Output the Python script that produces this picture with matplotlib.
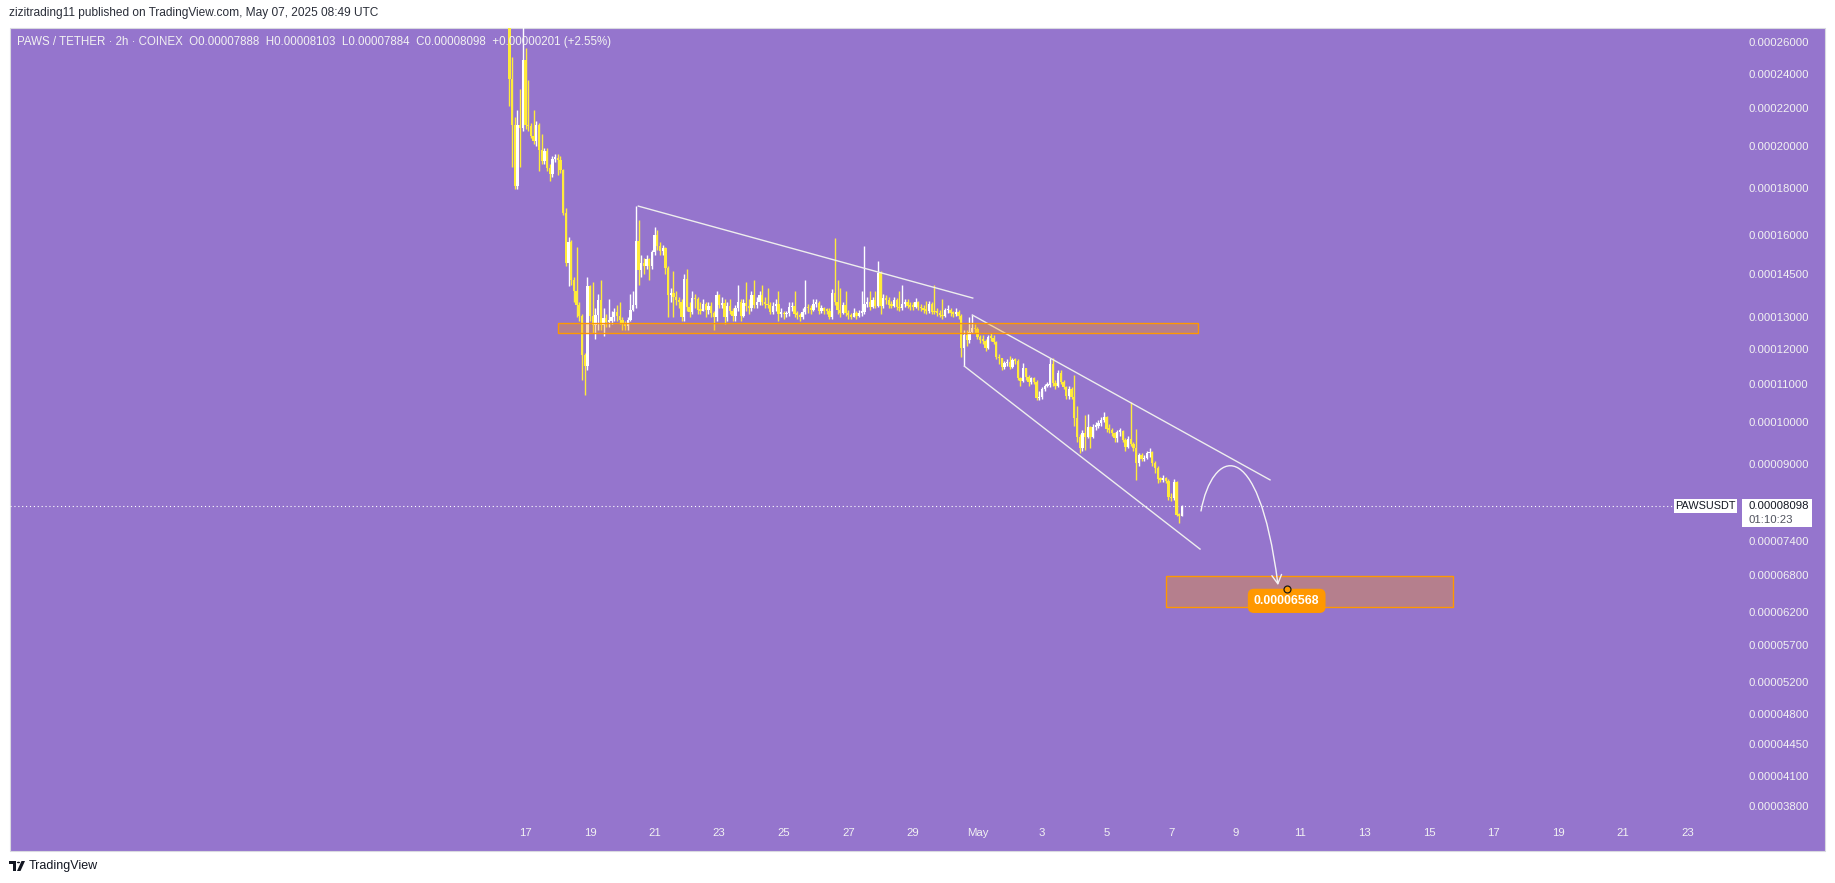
import numpy as np
import pandas as pd
import matplotlib
matplotlib.use('Agg')
import matplotlib.pyplot as plt
import matplotlib.dates as mdates
from matplotlib.patches import Rectangle, FancyArrowPatch, Circle, Polygon
from matplotlib.path import Path
from matplotlib.ticker import NullLocator

plt.rcParams['font.family'] = ['Liberation Sans', 'DejaVu Sans']

# ---- data: PAWS/USDT 2h candles (prices in units of 1e-5) ----
first_open = 27.50
close = [
    23.68, 21.10, 18.09, 21.10, 20.94, 24.84, 21.10, 21.02, 20.52, 20.26,
    21.10, 19.81, 19.26, 19.76, 18.93, 18.65, 19.36, 19.41, 19.31, 18.84,
    16.90, 14.91, 15.71, 14.28, 13.89, 13.41, 13.04, 11.83, 11.50, 14.07,
    13.04, 12.75, 13.08, 13.58, 12.75, 12.98, 12.85, 12.88, 13.01, 13.17,
    13.04, 12.92, 12.82, 12.72, 12.92, 13.24, 13.41, 15.75, 14.65, 14.91,
    14.80, 15.06, 14.80, 15.32, 15.99, 15.55, 15.36, 15.48, 14.72, 13.75,
    13.82, 13.68, 13.58, 13.51, 13.02, 14.32, 13.36, 13.19, 13.64, 13.60,
    13.24, 13.22, 13.44, 13.24, 13.38, 13.15, 13.00, 13.75, 13.41, 13.49,
    13.02, 13.38, 13.22, 13.04, 13.30, 13.51, 13.04, 13.49, 13.38, 13.30,
    13.75, 13.41, 13.52, 13.75, 13.52, 13.44, 13.41, 13.19, 13.38, 13.44,
    13.11, 13.13, 13.10, 13.13, 13.33, 13.38, 13.11, 13.08, 13.02, 13.19,
    13.33, 13.30, 13.24, 13.46, 13.49, 13.21, 13.30, 13.22, 13.21, 13.02,
    13.82, 13.52, 13.24, 13.13, 13.41, 13.15, 13.08, 13.02, 13.15, 13.04,
    13.15, 13.19, 13.46, 13.52, 13.33, 13.58, 13.38, 14.55, 13.38, 13.64,
    13.58, 13.41, 13.39, 13.58, 13.33, 13.30, 13.46, 13.52, 13.38, 13.36,
    13.35, 13.52, 13.33, 13.30, 13.24, 13.22, 13.46, 13.19, 13.17, 13.15,
    13.08, 13.04, 13.24, 13.26, 13.13, 13.11, 13.19, 13.05, 12.03, 12.44,
    12.28, 12.54, 12.65, 12.62, 12.38, 12.28, 12.26, 12.03, 12.38, 12.36,
    12.23, 11.76, 11.73, 11.48, 11.58, 11.63, 11.48, 11.68, 11.66, 11.15,
    11.09, 11.44, 11.18, 11.06, 11.15, 11.06, 10.61, 10.65, 10.85, 10.94,
    10.97, 11.56, 11.01, 10.94, 11.31, 11.06, 10.92, 10.67, 10.85, 10.65,
    10.09, 9.63, 9.35, 9.71, 9.63, 9.87, 9.63, 9.87, 9.90, 9.96,
    10.04, 10.12, 9.83, 9.80, 9.71, 9.59, 9.75, 9.77, 9.55, 9.39,
    9.57, 9.45, 9.37, 9.02, 9.20, 9.10, 9.12, 9.24, 9.27, 9.01,
    8.90, 8.67, 8.64, 8.68, 8.62, 8.28, 8.25, 8.60, 7.91, 7.888,
    8.098,
]
high = [
    28.50, 25.00, 21.50, 21.90, 23.10, 27.50, 25.60, 23.60, 21.20, 21.90,
    21.30, 21.20, 20.60, 19.90, 19.90, 19.10, 19.50, 19.60, 19.60, 19.50,
    18.90, 17.10, 15.90, 15.80, 14.40, 15.50, 13.50, 13.10, 11.90, 14.40,
    14.10, 14.20, 13.30, 13.80, 14.30, 13.30, 13.10, 13.60, 13.20, 13.30,
    13.40, 13.50, 13.00, 12.90, 13.00, 13.80, 13.90, 17.20, 16.60, 15.20,
    15.10, 15.20, 15.10, 15.40, 16.30, 16.20, 15.70, 15.60, 15.50, 14.80,
    14.00, 14.60, 13.90, 13.70, 13.60, 14.50, 14.70, 13.50, 13.90, 13.80,
    13.70, 13.50, 13.60, 13.50, 13.50, 13.50, 13.20, 13.90, 13.80, 13.70,
    13.60, 13.50, 13.60, 13.30, 13.40, 14.10, 13.60, 13.60, 14.20, 13.60,
    13.90, 14.30, 13.70, 13.90, 14.10, 13.70, 14.00, 13.50, 13.50, 13.60,
    13.90, 13.30, 13.20, 13.20, 13.50, 13.50, 13.90, 13.20, 13.15, 13.30,
    14.30, 13.45, 13.40, 13.60, 13.60, 13.55, 13.40, 13.35, 13.30, 13.30,
    13.95, 15.86, 14.30, 14.00, 13.50, 13.90, 13.25, 13.15, 13.30, 13.20,
    13.25, 13.90, 15.57, 13.70, 13.90, 13.70, 13.90, 14.98, 14.60, 13.80,
    13.75, 13.70, 13.55, 13.70, 13.65, 13.90, 14.10, 13.60, 13.60, 13.50,
    13.50, 13.65, 13.55, 13.45, 13.40, 13.55, 13.55, 13.50, 14.10, 13.30,
    13.25, 13.60, 13.30, 13.40, 13.30, 13.20, 13.30, 13.25, 13.10, 12.60,
    12.60, 13.02, 13.08, 12.80, 12.70, 12.45, 12.45, 12.30, 12.45, 12.50,
    12.45, 12.25, 11.85, 11.75, 11.65, 11.70, 11.80, 11.75, 11.75, 11.70,
    11.20, 11.60, 11.45, 11.25, 11.20, 11.20, 11.10, 10.80, 10.90, 11.00,
    11.05, 11.75, 11.73, 11.10, 11.40, 11.40, 11.10, 10.95, 10.95, 10.90,
    11.24, 10.40, 9.70, 9.80, 10.17, 10.19, 9.90, 9.95, 10.00, 10.05,
    10.12, 10.25, 10.15, 9.95, 9.85, 9.75, 9.80, 9.85, 9.80, 9.60,
    9.65, 10.51, 9.50, 9.81, 9.25, 9.25, 9.20, 9.30, 9.35, 9.30,
    9.05, 8.95, 8.70, 8.75, 8.70, 8.65, 8.35, 8.65, 8.62, 7.95,
    8.103,
]
low = [
    22.10, 19.00, 17.95, 17.95, 19.00, 20.80, 20.90, 20.80, 20.40, 20.10,
    20.00, 18.80, 19.10, 19.10, 18.80, 18.30, 18.50, 19.20, 18.60, 18.70,
    16.80, 14.80, 14.07, 14.10, 13.50, 13.00, 12.90, 11.10, 10.69, 11.40,
    12.90, 12.50, 12.30, 12.60, 12.60, 12.40, 12.70, 12.70, 12.80, 12.90,
    12.90, 12.80, 12.60, 12.60, 12.60, 12.90, 13.20, 13.30, 14.10, 14.40,
    14.50, 14.70, 14.30, 14.70, 15.20, 15.40, 15.20, 15.20, 14.50, 13.00,
    13.50, 13.00, 13.40, 13.30, 12.90, 12.90, 13.20, 13.00, 13.10, 13.30,
    13.10, 13.10, 13.20, 13.00, 13.10, 13.00, 12.58, 12.90, 13.30, 13.30,
    12.80, 12.90, 13.10, 12.90, 12.90, 13.20, 12.90, 13.00, 13.20, 13.10,
    13.20, 13.30, 13.30, 13.40, 13.40, 13.30, 13.30, 13.10, 13.10, 13.20,
    12.90, 13.00, 12.95, 13.00, 13.05, 13.20, 13.00, 12.95, 12.90, 12.95,
    13.10, 13.15, 13.10, 13.20, 13.35, 13.10, 13.15, 13.10, 13.10, 12.95,
    12.95, 13.40, 13.10, 13.00, 13.10, 13.05, 12.95, 12.95, 13.00, 12.95,
    13.00, 13.05, 13.10, 13.35, 13.25, 13.30, 13.30, 13.35, 13.10, 13.30,
    13.45, 13.30, 13.30, 13.35, 13.25, 13.20, 13.25, 13.35, 13.30, 13.25,
    13.25, 13.30, 13.25, 13.20, 13.15, 13.10, 13.15, 13.10, 13.10, 13.05,
    13.00, 12.95, 13.00, 13.15, 13.05, 13.00, 13.05, 12.95, 11.77, 11.50,
    12.10, 12.20, 12.50, 12.50, 12.30, 12.20, 12.15, 11.95, 12.00, 12.25,
    12.15, 11.70, 11.55, 11.40, 11.42, 11.50, 11.42, 11.45, 11.55, 11.10,
    10.95, 11.05, 11.10, 10.95, 11.00, 11.00, 10.55, 10.55, 10.60, 10.80,
    10.90, 10.90, 10.95, 10.85, 10.90, 11.00, 10.85, 10.60, 10.60, 10.60,
    9.90, 9.50, 9.24, 9.30, 9.31, 9.60, 9.36, 9.60, 9.80, 9.85,
    9.90, 10.00, 9.75, 9.72, 9.65, 9.50, 9.50, 9.65, 9.50, 9.30,
    9.35, 9.40, 9.30, 8.64, 8.95, 9.05, 9.05, 9.10, 9.15, 8.95,
    8.80, 8.57, 8.60, 8.60, 8.58, 8.22, 8.20, 8.22, 7.88, 7.75,
    7.884,
]

ytick_vals = [0.00026, 0.00024, 0.00022, 0.00020, 0.00018, 0.00016, 0.000145,
              0.00013, 0.00012, 0.00011, 0.00010, 0.00009, 0.000074, 0.000068,
              0.000062, 0.000057, 0.000052, 0.000048, 0.0000445, 0.000041, 0.000038]
xtick_dates = ['2025-04-17', '2025-04-19', '2025-04-21', '2025-04-23', '2025-04-25',
               '2025-04-27', '2025-04-29', '2025-05-01', '2025-05-03', '2025-05-05',
               '2025-05-07', '2025-05-09', '2025-05-11', '2025-05-13', '2025-05-15',
               '2025-05-17', '2025-05-19', '2025-05-21', '2025-05-23']
xtick_labels = ['17', '19', '21', '23', '25', '27', '29', 'May', '3', '5', '7',
                '9', '11', '13', '15', '17', '19', '21', '23']

target_price = 0.00006568

BG = '#9575cd'
UP = '#ffffff'
DOWN = '#ffeb3b'
ORANGE = '#ff9800'
TXT = '#f2f2f2'

W, H = 1835, 883


def fx(px):
    return px / W


def fy(py):
    return 1 - py / H


def dn(s):
    return mdates.date2num(pd.Timestamp(s).to_pydatetime())


fig = plt.figure(figsize=(W / 100, H / 100), dpi=100, facecolor='white')

# purple pane incl. price / time scales
fig.add_artist(Rectangle((fx(10), fy(851)), (1825 - 10) / W, (851 - 28) / H,
                         transform=fig.transFigure, facecolor=BG,
                         edgecolor='#d9d9e0', lw=0.8, zorder=-1))

ax = fig.add_axes([fx(10), fy(820), (1737 - 10) / W, (820 - 28) / H])
ax.set_facecolor('none')
for s in ax.spines.values():
    s.set_visible(False)

c = np.array(close) * 1e-5
o = np.concatenate([[first_open], close[:-1]]) * 1e-5
hi = np.maximum(np.array(high) * 1e-5, np.maximum(o, c))
lo = np.minimum(np.array(low) * 1e-5, np.minimum(o, c))

times = pd.date_range('2025-04-16 12:00', periods=len(c), freq='2h')
x = mdates.date2num(times.to_pydatetime())

cols = np.where(c >= o, UP, DOWN)
ax.vlines(x, lo, hi, colors=cols, lw=1.0, zorder=3)
body_bot = np.minimum(o, c)
body_h = np.maximum(np.abs(c - o), c * 0.004)
ax.bar(x, body_h, width=2 / 24 * 0.86, bottom=body_bot, color=cols, lw=0, zorder=3)

ax.set_yscale('log')
ax.set_ylim(3.673e-5, 2.692e-4)
ax.set_xlim(dn('2025-04-01 00:43'), dn('2025-05-24 12:43'))

# price scale
ax.yaxis.tick_right()
ax.set_yticks(ytick_vals)
ax.set_yticklabels([f'{v:.8f}' for v in ytick_vals])
ax.yaxis.set_minor_locator(NullLocator())
ax.tick_params(axis='y', length=0, pad=8, labelsize=8.2, labelcolor=TXT)

# time scale
ax.set_xticks([dn(d) for d in xtick_dates])
ax.set_xticklabels(xtick_labels)
ax.tick_params(axis='x', length=0, pad=6, labelsize=8.2, labelcolor=TXT)

# last price dotted line
ax.axhline(c[-1], xmax=(1674 - 10) / (1737 - 10), color='white', lw=0.8,
           ls=(0, (1, 2.5)), zorder=2)

# trend lines
LINE = '#eeeeee'
ax.plot([dn('2025-04-20 11:51'), dn('2025-04-30 20:30')], [17.20e-5, 13.65e-5],
        color=LINE, lw=1.0, zorder=4)
ax.plot([dn('2025-04-30 20:11'), dn('2025-05-10 01:32')], [13.08e-5, 8.64e-5],
        color=LINE, lw=1.0, zorder=4)
ax.plot([dn('2025-04-30 14:15'), dn('2025-05-07 21:29')], [11.50e-5, 7.26e-5],
        color=LINE, lw=1.0, zorder=4)

# support zone and target zone
za, zb = dn('2025-04-18 00:10'), dn('2025-05-07 20:00')
ax.add_patch(Rectangle((za, 12.49e-5), zb - za, (12.82 - 12.49) * 1e-5,
                       facecolor=(1, 0.596, 0, 0.31), edgecolor=ORANGE, lw=1.0, zorder=5))
ta, tb = dn('2025-05-06 20:10'), dn('2025-05-15 17:20')
ax.add_patch(Rectangle((ta, 6.28e-5), tb - ta, (6.78 - 6.28) * 1e-5,
                       facecolor=(1, 0.596, 0, 0.31), edgecolor=ORANGE, lw=1.0, zorder=5))

# projected path arrow
verts = [(dn('2025-05-07 22:13'), 7.99e-5), (dn('2025-05-08 06:24'), 9.31e-5),
         (dn('2025-05-09 16:36'), 9.79e-5), (dn('2025-05-10 07:28'), 6.63e-5)]
arc = Path(verts, [Path.MOVETO, Path.CURVE4, Path.CURVE4, Path.CURVE4])
ax.add_patch(FancyArrowPatch(path=arc, arrowstyle='->,head_length=0.45,head_width=0.25',
                             mutation_scale=14, color='#f4f4f4', lw=1.0, zorder=6))

# target label
xc = dn('2025-05-10 13:55')
ax.annotate(f'{target_price:.8f}', xy=(xc, target_price), xytext=(0, -8.6),
            textcoords='offset points', ha='center', va='center', color='white',
            fontsize=8.8, fontweight='bold', zorder=7,
            bbox=dict(boxstyle='round,pad=0.5,rounding_size=0.5', fc=ORANGE, ec='none'))
ax.plot(xc, target_price, 'o', ms=5, mfc=ORANGE, mec='#1a1a1a', mew=0.9, zorder=8)

# header / legend
fig.text(fx(9), fy(13), 'zizitrading11 published on TradingView.com, May 07, 2025 08:49 UTC',
         ha='left', va='center', fontsize=8.6, color='#2a2e39')
fig.text(fx(17), fy(41.5),
         'PAWS / TETHER \u00b7 2h \u00b7 COINEX  O0.00007888  H0.00008103  '
         'L0.00007884  C0.00008098  +0.00000201 (+2.55%)',
         ha='left', va='center', fontsize=8.3, color=TXT, zorder=6)

# last price labels on the price scale
fig.add_artist(Rectangle((fx(1674), fy(513)), (1737 - 1674) / W, (513 - 499) / H,
                         transform=fig.transFigure, facecolor='white', edgecolor='none', zorder=5))
fig.text(fx(1705.5), fy(506), 'PAWSUSDT', ha='center', va='center', fontsize=7.8,
         color='#131722', zorder=6)
fig.add_artist(Rectangle((fx(1742), fy(527)), (1812 - 1742) / W, (527 - 499) / H,
                         transform=fig.transFigure, facecolor='white', edgecolor='none', zorder=5))
fig.text(fx(1748), fy(506), f'{c[-1]:.8f}', ha='left', va='center', fontsize=8.2,
         color='#131722', zorder=6)
fig.text(fx(1748), fy(520), '01:10:23', ha='left', va='center', fontsize=8.2,
         color='#50535e', zorder=6)

# footer logo + name
fig.add_artist(Polygon([(fx(9), fy(861)), (fx(16), fy(861)), (fx(16), fy(871)),
                        (fx(13), fy(871)), (fx(13), fy(864)), (fx(9), fy(864))],
                       closed=True, transform=fig.transFigure, facecolor='#131722',
                       edgecolor='none'))
fig.add_artist(Circle((fx(18.5), fy(862.5)), 1.6 / W, transform=fig.transFigure,
                      facecolor='#131722', edgecolor='none'))
fig.add_artist(Polygon([(fx(17), fy(871)), (fx(21.5), fy(861)), (fx(25), fy(861)),
                        (fx(20.5), fy(871))], closed=True, transform=fig.transFigure,
                       facecolor='#131722', edgecolor='none'))
fig.text(fx(29), fy(866), 'TradingView', ha='left', va='center', fontsize=9,
         color='#131722')

fig.savefig('out.png', dpi=100, facecolor='white')
